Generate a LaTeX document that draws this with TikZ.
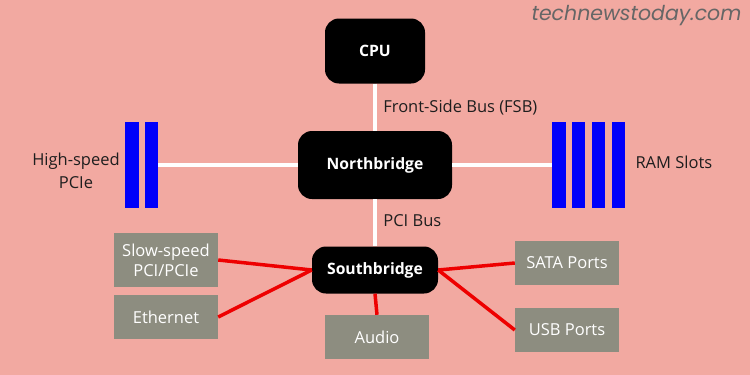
\documentclass[tikz,border=0pt]{standalone}
\usepackage{fontspec}
\setmainfont{Open Sans}
\newfontfamily\markfont{Poppins}
\definecolor{BgPink}{RGB}{242,169,161}
\definecolor{PortGray}{RGB}{141,141,128}
\definecolor{SlotBlue}{RGB}{0,0,250}
\definecolor{LinkRed}{RGB}{238,0,0}
\definecolor{LabelInk}{RGB}{30,30,30}
\usepackage{tikz}
\usetikzlibrary{
    positioning,
    calc,
}

\begin{document}
\begin{tikzpicture}[
    x=1pt, y=-1pt,
    chip/.style={rectangle, rounded corners=14pt, fill=black, text=white, font=\fontsize{15.7}{18}\selectfont\bfseries, align=center},
    port/.style={rectangle, fill=PortGray, text=white, minimum width=104pt, font=\fontsize{16.5}{20}\selectfont, align=center},
    slot/.style={rectangle, fill=SlotBlue, inner sep=0pt, minimum width=13.5pt, minimum height=86pt},
    lbl/.style={text=LabelInk, font=\fontsize{16.5}{23}\selectfont, align=center},
    bus/.style={white, line width=4pt},
    link/.style={LinkRed, line width=3.5pt}
]
    \fill[BgPink] (0,0) rectangle (750,375);
    \useasboundingbox (0,0) rectangle (750,375);
    % chips
    \node[chip, minimum width=100pt, minimum height=65pt] (cpu) at (375,51) {CPU};
    \node[chip, minimum width=154pt, minimum height=68pt] (nb) at (375,165) {Northbridge};
    \node[chip, minimum width=126pt, minimum height=47pt] (sb) at (375,270) {Southbridge};
    % slots
    \node[slot] (pcie1) at (132,165) {};
    \node[slot] (pcie2) at (151.5,165) {};
    \node[slot] (ram1) at (559,165) {};
    \node[slot] (ram2) at (578.5,165) {};
    \node[slot] (ram3) at (598.5,165) {};
    \node[slot] (ram4) at (618.5,165) {};
    \node[lbl] (pcielbl) at (76,170.5) {High-speed\\PCIe};
    \node[lbl, anchor=west] (ramlbl) at (632,162) {RAM Slots};
    % ports
    \node[port, minimum height=54pt] (slow) at (166,260) {Slow-speed\\PCI/PCIe};
    \node[port, minimum height=44pt] (eth) at (166,317) {Ethernet};
    \node[port, minimum height=44pt] (audio) at (377,337) {Audio};
    \node[port, minimum height=44pt] (sata) at (567,263) {SATA Ports};
    \node[port, minimum height=44pt] (usb) at (567,330) {USB Ports};
    % buses
    \draw[bus] (cpu) -- node[lbl, anchor=west, pos=0.5, xshift=3pt] (fsb) {Front-Side Bus (FSB)} (nb);
    \draw[bus] (nb) -- node[lbl, anchor=west, pos=0.45, xshift=3pt] (pci) {PCI Bus} (sb);
    \draw[bus] (pcie2.east) -- (nb.west);
    \draw[bus] (nb.east) -- (ram1.west);
    % links
    \draw[link] (slow.east) -- (sb.west);
    \draw[link] (eth.east) -- (sb.west);
    \draw[link] (sb.south) -- (audio.north);
    \draw[link] (sata.west) -- (sb.east);
    \draw[link] (usb.west) -- (sb.east);
    % watermark
    \node[text=black!60, font=\markfont\itshape\fontsize{20.5}{24}\selectfont, anchor=east] (mark) at (745,15.5) {technewstoday.com};
\end{tikzpicture}
\end{document}
